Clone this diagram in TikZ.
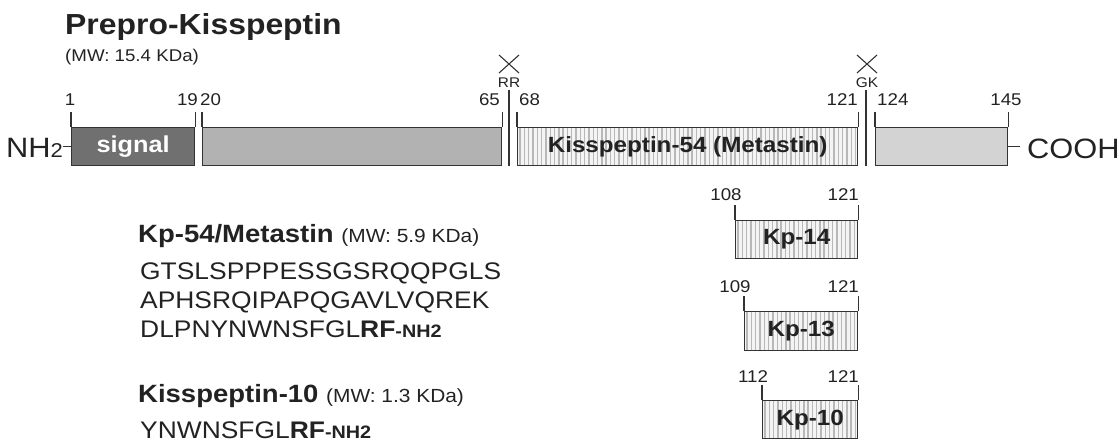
\documentclass[tikz,border=0pt]{standalone}
\usepackage{fontspec}
\setmainfont{Liberation Sans}[FakeStretch=1.1]
\newcommand\myfs[1]{\fontsize{#1}{#1}\selectfont}
\definecolor{ink}{HTML}{222222}
\definecolor{edge}{HTML}{333333}
\definecolor{sigfill}{HTML}{707070}
\definecolor{midfill}{HTML}{B2B2B2}
\definecolor{cfill}{HTML}{D3D3D3}
\definecolor{stripebg}{HTML}{F4F4F4}
\definecolor{stripefg}{HTML}{B8B8B8}
\tikzset{
  box/.style={draw=edge, line width=1.3pt, inner sep=0pt, anchor=north west, text=ink, font=\bfseries\myfs{22}},
  hatched/.style={box, fill=stripebg, path picture={
      \foreach \i in {0,...,80}{
        \draw[stripefg, line width=1.4pt] ([xshift=\i*4.3pt+2.5pt, yshift=-2pt]path picture bounding box.south west) -- ++(0pt,50pt);}}},
  tick/.style={draw=edge, line width=1.3pt},
  num/.style={inner sep=0pt, text=ink, font=\myfs{17}},
  site/.style={inner sep=0pt, text=ink, font=\myfs{14}},
  txt/.style={inner sep=0pt, anchor=base west, text=ink},
}
\begin{document}
\begin{tikzpicture}[x=1pt, y=-1pt]
\useasboundingbox (0,0) rectangle (1119,444);
% title
\node[txt, font=\bfseries\myfs{29}] (title) at (65,35) {Prepro-Kisspeptin};
\node[txt, font=\myfs{17}] (mw) at (65,62) {(MW: 15.4 KDa)};
% main boxes
\node[box, fill=sigfill, text=white, font=\bfseries\myfs{23}, minimum width=123pt, minimum height=38pt] (sig) at (71,127) {signal};
\node[box, fill=midfill, minimum width=299pt, minimum height=38pt] (mid) at (202,127) {};
\node[hatched, minimum width=340pt, minimum height=38pt] (k54) at (517,127) {Kisspeptin-54 (Metastin)};
\node[box, fill=cfill, minimum width=132pt, minimum height=38pt] (cbox) at (875,127) {};
% ticks
\foreach \b in {sig,mid,k54,cbox}{
  \draw[tick] (\b.north west) -- ++(0,-15);
  \draw[tick] (\b.north east) -- ++(0,-15);
}
% cleavage sites
\coordinate (rrtop) at (509,90); \coordinate (rrbot) at (509,166);
\coordinate (gktop) at (866,90); \coordinate (gkbot) at (866,166);
\draw[tick] (rrtop) -- (rrbot);
\draw[tick] (gktop) -- (gkbot);
\draw[edge, line width=1.1pt] (499,55) -- (519,73) (519,55) -- (499,73);
\draw[edge, line width=1.1pt] (857,55) -- (877,73) (877,55) -- (857,73);
\node[site, anchor=base] (rr) at (509,88) {RR};
\node[site, anchor=base] (gk) at (867,88) {GK};
% numbers
\node[num, anchor=base] at (70,106) {1};
\node[num, anchor=base east] at (198,106) {19};
\node[num, anchor=base west] at (200,106) {20};
\node[num, anchor=base east] at (500,106) {65};
\node[num, anchor=base west] at (519,106) {68};
\node[num, anchor=base east] at (858,106) {121};
\node[num, anchor=base west] at (877,106) {124};
\node[num, anchor=base] at (1006,106) {145};
% termini
\node[inner sep=0pt, anchor=base east, text=ink, font=\myfs{28}] (nh) at (63,157) {NH{\myfs{20}2}};
\draw[edge, line width=1.1pt] (nh.east |- sig.west) -- (sig.west);
\node[inner sep=0pt, anchor=base west, text=ink, font=\myfs{28}] (cooh) at (1027,158) {COOH};
\draw[edge, line width=1.1pt] (cbox.east) -- ([xshift=-7pt]cbox.east -| cooh.west);
% fragments
\node[hatched, minimum width=122pt, minimum height=38pt] (kp14) at (735,220) {Kp-14};
\node[hatched, minimum width=113pt, minimum height=39pt] (kp13) at (744,311) {Kp-13};
\node[hatched, minimum width=95pt, minimum height=38pt] (kp10) at (762,400) {Kp-10};
\foreach \b in {kp14,kp13,kp10}{
  \draw[tick] (\b.north west) -- ++(0,-15);
  \draw[tick] (\b.north east) -- ++(0,-15);
}
\node[num, anchor=base] at (726,200) {108};
\node[num, anchor=base east] at (859,200) {121};
\node[num, anchor=base] at (735,292) {109};
\node[num, anchor=base east] at (859,292) {121};
\node[num, anchor=base] at (753,382) {112};
\node[num, anchor=base east] at (859,382) {121};
% peptide texts
\node[txt, font=\myfs{25}] (kp54t) at (138,242) {\textbf{Kp-54/Metastin} {\myfs{19}(MW: 5.9 KDa)}};
\node[txt, font=\myfs{24}] (s1) at (140,279) {GTSLSPPPESSGSRQQPGLS};
\node[txt, font=\myfs{24}] (s2) at (140,308) {APHSRQIPAPQGAVLVQREK};
\node[txt, font=\myfs{24}] (s3) at (140,337) {DLPNYNWNSFGL\textbf{RF}{\bfseries\myfs{18}-NH2}};
\node[txt, font=\myfs{25}] (kp10t) at (138,402) {\textbf{Kisspeptin-10} {\myfs{19}(MW: 1.3 KDa)}};
\node[txt, font=\myfs{24}] (s4) at (140,438) {YNWNSFGL\textbf{RF}{\bfseries\myfs{18}-NH2}};
\end{tikzpicture}
\end{document}
